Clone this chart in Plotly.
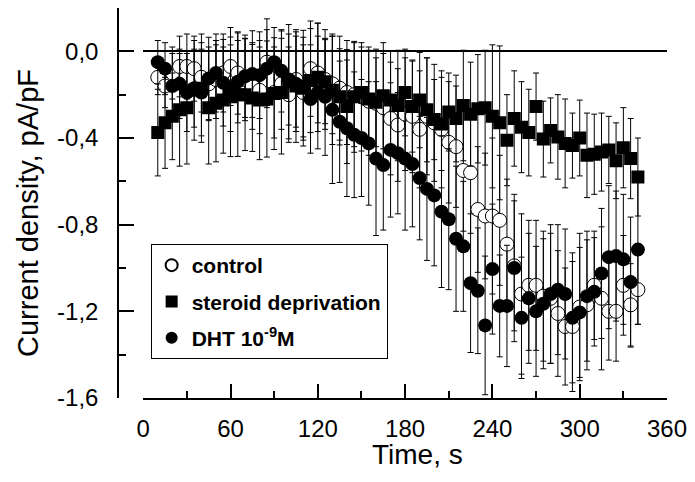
import plotly.graph_objects as go

time_s = [10, 15, 20, 25, 30, 35, 40, 45, 50, 55, 60, 65, 70, 75, 80, 85, 90, 95, 100, 105,
          110, 115, 120, 125, 130, 135, 140, 145, 150, 155, 160, 165, 170, 175, 180, 185, 190,
          195, 200, 205, 210, 215, 220, 225, 230, 235, 240, 245, 250, 255, 260, 265, 270, 275,
          280, 285, 290, 295, 300, 305, 310, 315, 320, 325, 330, 335, 340]

control = [-0.12, -0.16, -0.10, -0.07, -0.07, -0.08, -0.12, -0.15, -0.13, -0.10,
           -0.07, -0.10, -0.13, -0.16, -0.18, -0.05, -0.19, -0.15, -0.20, -0.13,
           -0.19, -0.08, -0.10, -0.13, -0.15, -0.17, -0.19, -0.20, -0.21, -0.23,
           -0.24, -0.26, -0.31, -0.34, -0.29, -0.30, -0.36, -0.30, -0.33, -0.36,
           -0.42, -0.44, -0.55, -0.56, -0.73, -0.76, -0.76, -0.78, -0.89, -0.99,
           -1.12, -1.08, -1.08, -1.13, -1.14, -1.21, -1.27, -1.27, -1.18, -1.17,
           -1.08, -1.14, -1.20, -1.20, -1.08, -1.17, -1.10]
control_err = [0.08, 0.10, 0.12, 0.14, 0.15, 0.15, 0.16, 0.17, 0.18, 0.18,
               0.18, 0.19, 0.19, 0.20, 0.20, 0.20, 0.21, 0.21, 0.22, 0.22,
               0.22, 0.22, 0.23, 0.23, 0.23, 0.24, 0.24, 0.24, 0.25, 0.25,
               0.25, 0.25, 0.26, 0.26, 0.26, 0.26, 0.27, 0.27, 0.27, 0.27,
               0.28, 0.28, 0.28, 0.28, 0.29, 0.29, 0.36, 0.30, 0.30, 0.30,
               0.37, 0.30, 0.30, 0.30, 0.30, 0.29, 0.27, 0.30, 0.34, 0.30,
               0.25, 0.33, 0.225, 0.23, 0.23, 0.19, 0.16]

steroid = [-0.375, -0.33, -0.30, -0.27, -0.26, -0.18, -0.17, -0.26, -0.24, -0.225,
           -0.21, -0.20, -0.20, -0.215, -0.225, -0.22, -0.195, -0.19, -0.14, -0.16,
           -0.17, -0.135, -0.12, -0.14, -0.18, -0.21, -0.255, -0.21, -0.19, -0.22,
           -0.235, -0.205, -0.225, -0.25, -0.19, -0.255, -0.225, -0.27, -0.315, -0.335,
           -0.28, -0.31, -0.25, -0.29, -0.265, -0.26, -0.30, -0.33, -0.41, -0.31,
           -0.35, -0.375, -0.255, -0.405, -0.365, -0.395, -0.425, -0.435, -0.40, -0.48,
           -0.475, -0.465, -0.455, -0.505, -0.445, -0.495, -0.58]
steroid_err = [0.20, 0.21, 0.20, 0.26, 0.26, 0.23, 0.25, 0.26, 0.27, 0.245,
               0.276, 0.285, 0.258, 0.247, 0.275, 0.268, 0.258, 0.284, 0.264, 0.26,
               0.267, 0.24, 0.25, 0.194, 0.25, 0.222, 0.263, 0.256, 0.21, 0.225,
               0.205, 0.245, 0.225, 0.255, 0.20, 0.21, 0.22, 0.24, 0.185, 0.215,
               0.18, 0.20, 0.255, 0.24, 0.25, 0.265, 0.33, 0.355, 0.21, 0.22,
               0.21, 0.20, 0.155, 0.175, 0.15, 0.195, 0.205, 0.15, 0.175, 0.195,
               0.185, 0.18, 0.155, 0.175, 0.185, 0.185, 0.18]

dht = [-0.05, -0.08, -0.16, -0.15, -0.19, -0.17, -0.19, -0.125, -0.10, -0.145,
       -0.17, -0.14, -0.115, -0.105, -0.11, -0.08, -0.05, -0.09, -0.13, -0.15,
       -0.165, -0.22, -0.19, -0.21, -0.27, -0.325, -0.355, -0.385, -0.40, -0.425,
       -0.495, -0.525, -0.455, -0.47, -0.495, -0.52, -0.585, -0.635, -0.665, -0.74,
       -0.775, -0.865, -0.90, -1.07, -1.105, -1.265, -1.005, -1.175, -1.175, -1.00,
       -1.23, -1.14, -1.20, -1.165, -1.12, -1.10, -1.12, -1.23, -1.205, -1.13,
       -1.11, -1.025, -0.95, -0.945, -0.96, -1.065, -0.915]
dht_err = [0.10, 0.12, 0.15, 0.16, 0.18, 0.18, 0.20, 0.19, 0.18, 0.20,
           0.20, 0.19, 0.19, 0.20, 0.20, 0.18, 0.16, 0.19, 0.21, 0.22,
           0.23, 0.25, 0.26, 0.27, 0.34, 0.28, 0.315, 0.29, 0.27, 0.285,
           0.355, 0.30, 0.31, 0.28, 0.33, 0.29, 0.285, 0.33, 0.325, 0.35,
           0.325, 0.335, 0.30, 0.32, 0.29, 0.32, 0.30, 0.235, 0.28, 0.34,
           0.28, 0.30, 0.30, 0.30, 0.32, 0.30, 0.30, 0.30, 0.30, 0.30,
           0.25, 0.30, 0.33, 0.30, 0.30, 0.30, 0.345]

y_tickvals = [0.0, -0.4, -0.8, -1.2, -1.6]
y_ticktext = ["0,0", "-0,4", "-0,8", "-1,2", "-1,6"]
x_tickvals = [0, 60, 120, 180, 240, 300, 360]
x_ticktext = ["0", "60", "120", "180", "240", "300", "360"]

FONT = "Liberation Sans, Arial, sans-serif"

fig = go.Figure()


def err(vals):
    return dict(type="data", array=vals, symmetric=True, color="black", thickness=1, width=3)


fig.add_trace(go.Scatter(
    x=time_s, y=control, mode="markers", name="control", legendgroup="a",
    marker=dict(symbol="circle", size=14, color="white", line=dict(color="black", width=1)),
    error_y=err(control_err)))
fig.add_trace(go.Scatter(
    x=time_s, y=steroid, mode="markers", name="steroid deprivation", legendgroup="b",
    marker=dict(symbol="square", size=13, color="black", line=dict(color="black", width=0)),
    error_y=err(steroid_err)))
fig.add_trace(go.Scatter(
    x=time_s, y=dht, mode="markers", name="DHT 10<sup>-9</sup>M", legendgroup="c",
    marker=dict(symbol="circle", size=14, color="black", line=dict(color="black", width=0)),
    error_y=err(dht_err)))

W, H = 695, 482
ml, mr, mt, mb = 118, 22, 8, 84
pw = W - ml - mr
ph = H - mt - mb

fig.update_layout(
    width=W, height=H,
    margin=dict(l=ml, r=mr, t=mt, b=mb),
    paper_bgcolor="white", plot_bgcolor="white",
    font=dict(family=FONT, color="black", size=24),
    showlegend=True,
    legend=dict(
        x=(151 - ml) / pw, y=(H - mb - 244) / ph, xanchor="left", yanchor="top",
        bordercolor="black", borderwidth=1, bgcolor="white",
        font=dict(family=FONT, size=21, color="black", weight="bold"),
        tracegroupgap=6, itemsizing="constant",
    ),
    xaxis=dict(
        domain=[(143.5 - ml) / pw, 1], range=[0, 360],
        showline=True, linecolor="black", linewidth=1.5,
        showgrid=False, zeroline=False,
        ticks="inside", ticklen=14, tickwidth=1.5, tickcolor="black",
        tickvals=x_tickvals, ticktext=x_ticktext,
        tickfont=dict(size=24, family=FONT, color="black"),
        ticklabelstandoff=8,
        minor=dict(ticks="inside", ticklen=7, tickwidth=1.5, tickcolor="black", dtick=30, tick0=0, showgrid=False),
    ),
    yaxis=dict(
        anchor="free", position=0, range=[-1.6, 0.2],
        showline=True, linecolor="black", linewidth=1.5,
        showgrid=False, zeroline=True, zerolinecolor="black", zerolinewidth=1.5,
        ticks="inside", ticklen=15, tickwidth=1.5, tickcolor="black",
        tickvals=y_tickvals, ticktext=y_ticktext,
        tickfont=dict(size=24, family=FONT, color="black"),
        ticklabelstandoff=14,
        minor=dict(ticks="inside", ticklen=7, tickwidth=1.5, tickcolor="black", dtick=0.2, tick0=0, showgrid=False),
    ),
    annotations=[
        dict(text="Time, s", xref="paper", yref="paper",
             x=(421 - ml) / pw, y=(H - mb - 455) / ph, xanchor="center", yanchor="middle",
             showarrow=False, font=dict(size=28, family=FONT, color="black")),
        dict(text="Current density, pA/pF", xref="paper", yref="paper",
             x=(27 - ml) / pw, y=(H - mb - 213) / ph, xanchor="center", yanchor="middle",
             textangle=-90, showarrow=False, font=dict(size=29, family=FONT, color="black")),
    ],
)

fig.write_html("out.html")
